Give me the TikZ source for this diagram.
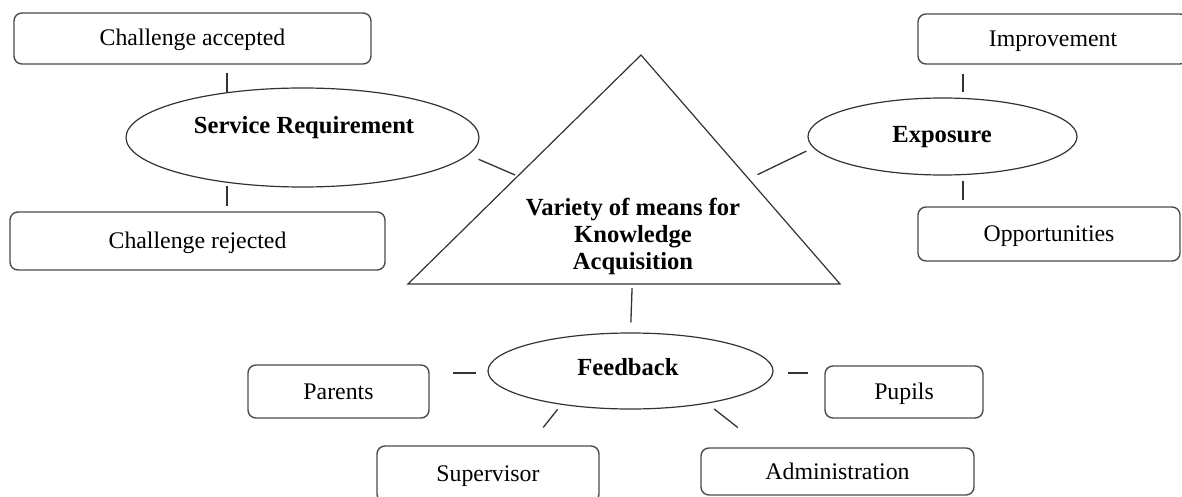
\documentclass[tikz,border=0pt]{standalone}
\usepackage{fontspec}
\setmainfont{Liberation Serif}
\usetikzlibrary{shapes.geometric,calc}

\tikzset{
  box/.style={draw=black!70, line width=1.4pt, rounded corners=8pt, inner sep=0pt,
    font=\fontsize{23.8}{27}\selectfont, text height=15pt, text depth=0pt},
  oval/.style={draw=black!80, line width=1.2pt, ellipse, inner sep=0pt},
  headtext/.style={font=\fontsize{24.6}{27}\selectfont\bfseries, inner sep=0pt},
  link/.style={draw=black!80, line width=1.3pt},
}

\begin{document}
\begin{tikzpicture}[x=1pt, y=-1pt]
  \useasboundingbox (0,0) rectangle (1182,497);
  \fill[white] (0,0) rectangle (1182,497);
  \clip (0,0) rectangle (1182,497);

  % central triangle
  \coordinate (apex) at (641,55);
  \coordinate (bl) at (408,284);
  \coordinate (br) at (840,284);
  \draw[draw=black!80, line width=1.2pt, line join=miter] (apex) -- (bl) -- (br) -- cycle;
  \node[headtext, align=center] (tt) at (633,236)
    {Variety of means for\\Knowledge\\Acquisition};
  \coordinate (tl) at ($(apex)!0.529!(bl)$);
  \coordinate (tr) at ($(apex)!0.541!(br)$);
  \coordinate (tb) at ($(bl)!0.519!(br)$);

  % ellipses
  \node[oval, minimum width=353pt, minimum height=99pt] (sr) at (302.5,137.5) {};
  \node[headtext, anchor=base] (srt) at (304,134) {Service Requirement};
  \node[oval, minimum width=269pt, minimum height=77pt] (ex) at (942.5,136.5) {};
  \node[headtext, anchor=base] (ext) at (942,143) {Exposure};
  \node[oval, minimum width=285pt, minimum height=76pt] (fb) at (630.5,371) {};
  \node[headtext, anchor=base] (fbt) at (628,375) {Feedback};

  % boxes
  \node[box, minimum width=357pt, minimum height=51pt] (ca) at (192.5,38.5) {Challenge accepted};
  \node[box, minimum width=375pt, minimum height=58pt] (cr) at (197.5,241) {Challenge rejected};
  \node[box, minimum width=270pt, minimum height=50pt] (im) at (1053,39) {Improvement};
  \node[box, minimum width=262pt, minimum height=54pt] (op) at (1049,234) {Opportunities};
  \node[box, minimum width=181pt, minimum height=53pt] (pa) at (338.5,391.5) {Parents};
  \node[box, minimum width=158pt, minimum height=52pt] (pu) at (904,392) {Pupils};
  \node[box, minimum width=222pt, minimum height=56pt] (su) at (488,474) {Supervisor};
  \node[box, minimum width=273pt, minimum height=47pt] (ad) at (837.5,471.5) {Administration};

  % connectors
  \draw[link, shorten <=8pt] (sr.149 |- ca.south) -- (sr.149);
  \draw[link, shorten <=3pt, shorten >=5pt] (sr.211) -- (sr.211 |- cr.north);
  \draw[link, shorten <=10.9pt, shorten >=2.9pt] (sr.-6.2) -- (tl);
  \draw[link, shorten <=9.8pt, shorten >=7.6pt] (tr) -- (ex.185.7);
  \draw[link, shorten <=9pt, shorten >=5.5pt] ([xshift=20.5pt]ex.north |- im.south) -- ([xshift=20.5pt]ex.north);
  \draw[link, shorten <=5pt, shorten >=6pt] ([xshift=20.5pt]ex.south) -- ([xshift=20.5pt]ex.south |- op.north);
  \draw[link, shorten <=4pt, shorten >=10pt] (tb) -- (fb.north);
  \draw[link, shorten <=11pt, shorten >=23pt] ([yshift=-2pt]fb.west) -- ([yshift=-2pt]fb.west -| pa.east);
  \draw[link, shorten <=14pt, shorten >=16pt] ([yshift=-2pt]fb.east) -- ([yshift=-2pt]fb.east -| pu.west);
  \draw[link, shorten <=5.7pt, shorten >=22.9pt] (fb.206.7) -- (su.35.9);
  \draw[link, shorten <=8.8pt, shorten >=32pt] (fb.-23.9) -- (ad.162.7);
\end{tikzpicture}
\end{document}
